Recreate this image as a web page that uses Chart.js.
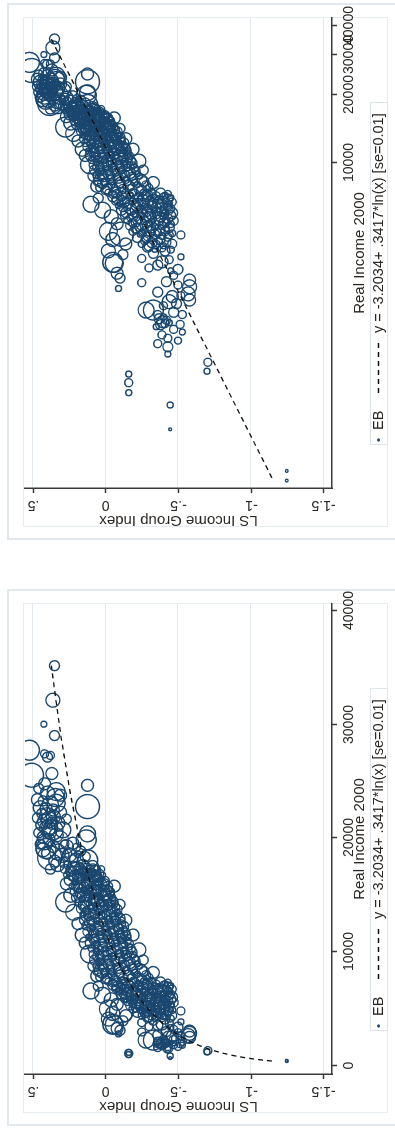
<!DOCTYPE html>
<html>
<head>
<meta charset="utf-8">
<script src="https://cdn.jsdelivr.net/npm/chart.js@4.4.1/dist/chart.umd.min.js"></script>
<style>
  html, body { margin: 0; padding: 0; background: #fff; overflow: hidden; }
  body { width: 395px; height: 1129px; position: relative; }
  .panel { position: absolute; left: 7px; width: 393px; height: 537px; overflow: hidden; }
  /* la grafica se dibuja horizontal y se gira 90 grados a la izquierda */
  .panel canvas { position: absolute; left: 0; top: 0; transform-origin: 0 0; transform: translateY(537px) rotate(-90deg); }
</style>
</head>
<body>
<div class="panel" style="top:3px"><canvas id="graficaLog" width="537" height="393"></canvas></div>
<div class="panel" style="top:589px"><canvas id="graficaLin" width="537" height="393"></canvas></div>
<script>
// Ingreso real 2000 de cada grupo
var ingreso = [
  35200, 32160, 30050, 29050, 27760, 27440, 27300, 27150,
  25560, 25710, 24670, 24120, 23600, 23100, 22800, 21630,
  21000, 20400, 19110, 18300, 14400, 9830, 3650, 4860,
  21340, 20750, 20600, 21340, 20750, 19870, 19280, 19580,
  18550, 18110, 17080, 17520, 18110, 19870, 17230, 16640,
  16350, 15910, 15760, 15180, 15180, 14590, 14590, 23300,
  22600, 22200, 21900, 20100, 19500, 18800, 22300, 21700,
  17650, 17480, 17560, 17420, 17530, 17380,
  17120, 16950, 17060, 16880, 17010, 16920,
  16620, 16440, 16550, 16470, 16580, 16400,
  16130, 15960, 16050, 15910, 16070, 15980,
  15620, 15460, 15540, 15430, 15580, 15470,
  15130, 14960, 15040, 14920, 15070, 14980,
  14620, 14450, 14560, 14410, 14530, 14470,
  14110, 13960, 14050, 13920, 14080, 13970,
  13620, 13440, 13570, 13410, 13530, 13460,
  13100, 12950, 13060, 12910, 13040, 12970,
  12630, 12460, 12550, 12420, 12580, 12480,
  12120, 11950, 12060, 11910, 12040, 11970,
  11610, 11460, 11570, 11420, 11540, 11470,
  11130, 10950, 11060, 10920, 11050, 10960,
  10620, 10460, 10570, 10410, 10540, 10480,
  10110, 9960, 10060, 9920, 10040, 9970,
  9620, 9450, 9560, 9420, 9540, 9470,
  9120, 8960, 9060, 8910, 9040, 8970,
  8610, 8460, 8570, 8420, 8540, 8470,
  8120, 7960, 8060, 7920, 8040, 7970,
  7610, 7460, 7560, 7420, 7540, 7480,
  7280, 7150, 7230, 7120, 7260, 7170, 7210,
  6960, 6850, 6930, 6870, 6980, 6890, 6940,
  6650, 6560, 6640, 6570, 6680, 6590, 6620,
  6360, 6240, 6330, 6270, 6350, 6250, 6310,
  6050, 5950, 6030, 5960, 6070, 5980, 6020,
  5760, 5650, 5730, 5660, 5740, 5680,
  5450, 5360, 5430, 5370, 5440, 5380,
  5150, 5060, 5130, 5070, 5140,
  4860, 4760, 4840, 4770, 4830,
  4550, 4460, 4530, 4470,
  4260, 4170, 4230, 4150,
  8400, 7900, 7000, 6580, 6200, 5800, 5400, 5000,
  4600, 4400, 4100, 3950, 8800, 9300, 8200, 11500,
  10200, 12800, 14200, 15800, 16000, 15000, 13500, 12500,
  11500, 10800,
  4820, 3860, 3800, 3610, 3270, 3110, 2800, 2970, 3670, 3050,
  2850, 2650, 2490, 2580, 2450, 2250, 2250, 2000, 2060, 1960,
  2030, 1940, 2100, 1900, 2150, 1980, 1945, 1690, 1550, 1440,
  1325, 1210, 1175, 1077, 973, 859, 671, 440, 399, 4000,
  3750, 3450, 3350, 4100, 3550,
  17310, 17190, 17270, 17210, 17330, 17170, 17290,
  16800, 16690, 16770, 16710, 16820, 16680, 16760,
  16310, 16180, 16280, 16200, 16330, 16170, 16270,
  15800, 15700, 15780, 15690, 15820, 15710, 15760,
  15310, 15190, 15270, 15210, 15320, 15180, 15290,
  14800, 14690, 14770, 14710, 14820, 14700, 14760,
  14300, 14190, 14280, 14200, 14320, 14180, 14270,
  13810, 13700, 13770, 13690, 13820, 13710, 13760,
  13300, 13190, 13280, 13210, 13310, 13180, 13270,
  12800, 12700, 12770, 12690, 12810, 12710, 12760,
  12310, 12190, 12280, 12200, 12320, 12180, 12270,
  11800, 11700, 11770, 11690, 11810, 11710, 11760,
  11310, 11190, 11270, 11210, 11320, 11180, 11290,
  10800, 10700, 10770, 10690, 10810, 10710, 10760,
  10310, 10190, 10280, 10200, 10320, 10180, 10270,
  9800, 9700, 9770, 9690, 9810, 9710, 9760,
  9300, 9190, 9280, 9210, 9310, 9180, 9270,
  8800, 8700, 8770, 8690, 8810, 8710, 8760,
  8300, 8190, 8280, 8210, 8310, 8180, 8270,
  7800, 7700, 7770, 7690, 7810, 7710, 7760,
  7400, 7320, 7380, 7300, 7410, 7330, 7370, 7310,
  7100, 7010, 7080, 7020, 7110, 7000, 7070, 7030,
  6800, 6710, 6780, 6720, 6810, 6700, 6770, 6730,
  6500, 6410, 6480, 6420, 6510, 6400, 6470,
  6200, 6110, 6180, 6120, 6210, 6100, 6170,
  5900, 5810, 5880, 5820, 5910, 5800, 5870,
  5600, 5510, 5580, 5520, 5610, 5500, 5570,
  5300, 5210, 5280, 5220, 5310, 5200,
  5000, 4910, 4980, 4920, 5010, 4900,
  4700, 4610, 4680, 4620, 4710,
  4400, 4310, 4380, 4320, 4410,
  24800, 24400, 24000, 23800, 23400, 23000, 22700, 22500,
  22000, 21800, 21500, 21200, 20900, 20500, 20300, 19900,
  19700, 19300, 19000, 18700, 18500, 18000, 17700, 17300,
  19200, 18900, 18700, 18400, 18200, 17900, 19500, 18600,
  3400, 3200, 3000, 2900, 2700, 2600, 2400, 2350,
  2200, 2150, 1850, 1800, 1750, 1650, 1600
];

// Indice LS del grupo de ingreso
var indiceLS = [
  0.352, 0.363, 0.425, 0.352, 0.524, 0.42, 0.38, 0.40,
  0.51, 0.37, 0.124, 0.34, 0.345, 0.34, 0.124, 0.39,
  0.385, 0.124, 0.41, 0.385, 0.275, 0.11, -0.05, -0.11,
  0.372, 0.363, 0.386, 0.329, 0.294, 0.317, 0.271, 0.225,
  0.248, 0.202, 0.202, 0.156, 0.122, 0.133, 0.088, 0.179,
  0.064, 0.030, 0.133, 0.099, -0.005, -0.028, 0.064, 0.43,
  0.41, 0.44, 0.36, 0.43, 0.45, 0.33, 0.31, 0.27,
  0.26, 0.21, 0.17, 0.13, 0.09, 0.06,
  0.24, 0.20, 0.16, 0.11, 0.08, 0.04,
  0.23, 0.18, 0.14, 0.10, 0.06, 0.03,
  0.21, 0.17, 0.13, 0.09, 0.05, 0.01,
  0.19, 0.15, 0.11, 0.07, 0.02, -0.02,
  0.18, 0.13, 0.09, 0.05, 0.00, -0.04,
  0.16, 0.12, 0.08, 0.03, -0.01, -0.05,
  0.15, 0.10, 0.06, 0.02, -0.03, -0.07,
  0.13, 0.09, 0.05, 0.00, -0.04, -0.08,
  0.12, 0.07, 0.03, -0.02, -0.06, -0.10,
  0.11, 0.06, 0.02, -0.03, -0.07, -0.11,
  0.10, 0.05, 0.00, -0.04, -0.09, -0.13,
  0.09, 0.04, -0.01, -0.05, -0.10, -0.14,
  0.08, 0.03, -0.02, -0.06, -0.11, -0.15,
  0.07, 0.02, -0.03, -0.07, -0.12, -0.16,
  0.06, 0.01, -0.04, -0.09, -0.13, -0.18,
  0.05, 0.00, -0.05, -0.10, -0.15, -0.20,
  0.04, -0.02, -0.07, -0.12, -0.17, -0.22,
  0.03, -0.03, -0.09, -0.14, -0.19, -0.25,
  0.02, -0.04, -0.10, -0.16, -0.22, -0.28,
  0.00, -0.06, -0.12, -0.19, -0.25, -0.32,
  -0.05, -0.11, -0.17, -0.23, -0.29, -0.35, -0.41,
  -0.08, -0.14, -0.20, -0.26, -0.31, -0.37, -0.43,
  -0.10, -0.16, -0.22, -0.28, -0.33, -0.39, -0.44,
  -0.12, -0.18, -0.24, -0.30, -0.35, -0.40, -0.45,
  -0.14, -0.20, -0.26, -0.31, -0.36, -0.41, -0.46,
  -0.17, -0.23, -0.28, -0.33, -0.38, -0.43,
  -0.19, -0.25, -0.30, -0.35, -0.40, -0.45,
  -0.21, -0.27, -0.32, -0.37, -0.42,
  -0.24, -0.29, -0.34, -0.39, -0.44,
  -0.27, -0.32, -0.37, -0.42,
  -0.29, -0.34, -0.39, -0.45,
  0.03, 0.06, 0.05, 0.10, 0.02, -0.04, -0.08, -0.02,
  -0.05, -0.14, -0.02, -0.12, 0.08, -0.26, -0.33, -0.19,
  -0.23, -0.14, -0.10, -0.06, 0.27, 0.24, 0.22, 0.19,
  0.16, 0.14,
  -0.52, -0.52, -0.25, -0.06, -0.08, -0.10, -0.09, -0.25, -0.39, -0.58,
  -0.58, -0.57, -0.58, -0.46, -0.44, -0.33, -0.28, -0.395, -0.37, -0.41,
  -0.42, -0.38, -0.40, -0.35, -0.36, -0.44, -0.515, -0.43, -0.43, -0.43,
  -0.706, -0.70, -0.16, -0.16, -0.16, -0.446, -0.446, -1.25, -1.25, -0.33,
  -0.44, -0.30, -0.45, -0.41, -0.36,
  0.28, 0.235, 0.19, 0.15, 0.11, 0.07, 0.03,
  0.265, 0.22, 0.18, 0.14, 0.10, 0.06, 0.02,
  0.25, 0.205, 0.165, 0.125, 0.085, 0.045, 0.005,
  0.23, 0.19, 0.15, 0.11, 0.07, 0.03, -0.015,
  0.215, 0.175, 0.135, 0.095, 0.05, 0.01, -0.035,
  0.20, 0.16, 0.12, 0.075, 0.035, -0.01, -0.05,
  0.185, 0.145, 0.10, 0.06, 0.02, -0.025, -0.065,
  0.17, 0.13, 0.09, 0.045, 0.005, -0.04, -0.08,
  0.155, 0.115, 0.075, 0.03, -0.01, -0.055, -0.095,
  0.145, 0.10, 0.06, 0.015, -0.025, -0.07, -0.11,
  0.135, 0.09, 0.045, 0.00, -0.04, -0.085, -0.125,
  0.125, 0.08, 0.035, -0.01, -0.055, -0.10, -0.14,
  0.115, 0.07, 0.025, -0.02, -0.065, -0.11, -0.155,
  0.105, 0.06, 0.015, -0.03, -0.075, -0.12, -0.165,
  0.095, 0.05, 0.005, -0.04, -0.085, -0.13, -0.175,
  0.085, 0.04, -0.01, -0.055, -0.10, -0.145, -0.19,
  0.075, 0.03, -0.02, -0.065, -0.115, -0.16, -0.21,
  0.065, 0.015, -0.035, -0.085, -0.135, -0.18, -0.235,
  0.055, 0.005, -0.045, -0.10, -0.15, -0.20, -0.265,
  0.04, -0.01, -0.065, -0.12, -0.175, -0.23, -0.30,
  -0.02, -0.08, -0.14, -0.20, -0.26, -0.32, -0.38, -0.43,
  -0.05, -0.11, -0.17, -0.23, -0.285, -0.34, -0.40, -0.45,
  -0.07, -0.13, -0.19, -0.25, -0.305, -0.36, -0.415, -0.46,
  -0.09, -0.15, -0.21, -0.27, -0.32, -0.375, -0.43,
  -0.11, -0.17, -0.23, -0.285, -0.335, -0.385, -0.44,
  -0.13, -0.19, -0.25, -0.30, -0.35, -0.40, -0.45,
  -0.15, -0.21, -0.27, -0.32, -0.37, -0.42, -0.47,
  -0.17, -0.23, -0.29, -0.34, -0.39, -0.44,
  -0.19, -0.25, -0.31, -0.36, -0.41, -0.46,
  -0.22, -0.28, -0.33, -0.38, -0.43,
  -0.25, -0.30, -0.35, -0.40, -0.46,
  0.42, 0.46, 0.40, 0.31, 0.47, 0.38, 0.45, 0.36,
  0.40, 0.47, 0.42, 0.44, 0.40, 0.46, 0.34, 0.39,
  0.42, 0.36, 0.43, 0.40, 0.30, 0.35, 0.33, 0.38,
  0.20, 0.17, 0.26, 0.14, 0.22, 0.29, 0.28, 0.19,
  -0.50, -0.47, -0.42, -0.50, -0.36, -0.52, -0.49, -0.40,
  -0.47, -0.53, -0.47, -0.53, -0.39, -0.50, -0.36
];

// Peso de cada grupo (aweight)
var peso = [
  25, 49, 9, 25, 100, 16, 16, 25,
  144, 36, 36, 81, 81, 81, 144, 64,
  64, 64, 100, 144, 100, 81, 100, 144,
  36, 100, 49, 49, 64, 81, 49, 36,
  49, 49, 100, 49, 100, 100, 36, 49,
  36, 36, 49, 36, 64, 36, 36, 25,
  36, 25, 49, 36, 25, 64, 36, 25,
  16, 25, 9, 20, 36, 9,
  25, 12, 16, 30, 9, 16,
  16, 25, 12, 16, 20, 9,
  9, 20, 25, 12, 16, 30,
  25, 9, 16, 36, 12, 16,
  20, 25, 9, 16, 30, 12,
  9, 16, 25, 12, 20, 25,
  30, 9, 16, 25, 12, 16,
  16, 20, 9, 16, 25, 12,
  12, 16, 30, 9, 20, 25,
  25, 9, 16, 20, 12, 16,
  16, 30, 9, 16, 25, 9,
  12, 16, 25, 9, 20, 25,
  25, 12, 16, 30, 9, 16,
  16, 25, 9, 20, 25, 12,
  9, 20, 25, 12, 16, 30,
  30, 9, 16, 25, 12, 16,
  16, 25, 12, 16, 30, 9,
  9, 16, 25, 12, 20, 25,
  25, 12, 16, 30, 9, 20,
  20, 25, 9, 16, 30, 12,
  16, 25, 9, 20, 25, 16, 9,
  25, 12, 16, 30, 9, 16, 25,
  9, 16, 25, 12, 20, 25, 9,
  16, 30, 9, 16, 25, 12, 16,
  25, 9, 20, 25, 12, 16, 30,
  12, 16, 25, 9, 20, 25,
  16, 30, 9, 16, 25, 12,
  25, 12, 16, 30, 9,
  9, 20, 25, 12, 16,
  16, 25, 12, 20,
  25, 9, 16, 12,
  49, 36, 25, 64, 64, 49, 36, 81,
  49, 36, 49, 25, 36, 25, 36, 36,
  49, 36, 25, 36, 36, 49, 64, 36,
  49, 36,
  16, 9, 16, 81, 36, 25, 9, 16, 36, 36,
  49, 49, 36, 36, 49, 100, 64, 36, 25, 16,
  16, 25, 9, 9, 16, 9, 16, 16, 25, 9,
  16, 9, 9, 16, 9, 9, 2, 2, 2, 25,
  16, 16, 9, 25, 25,
  20, 12, 25, 9, 16, 30, 12,
  12, 25, 9, 20, 16, 25, 9,
  25, 9, 16, 30, 12, 16, 20,
  9, 20, 25, 12, 16, 9, 25,
  16, 25, 12, 20, 30, 9, 16,
  25, 9, 16, 25, 12, 20, 9,
  12, 20, 25, 9, 16, 30, 12,
  20, 12, 16, 25, 9, 16, 25,
  9, 25, 20, 12, 25, 16, 9,
  25, 16, 9, 20, 16, 25, 12,
  16, 9, 25, 16, 12, 20, 25,
  20, 25, 12, 9, 25, 16, 16,
  9, 16, 25, 20, 12, 25, 9,
  25, 12, 16, 25, 9, 20, 16,
  12, 25, 9, 16, 25, 12, 20,
  16, 20, 25, 9, 16, 25, 12,
  25, 9, 16, 25, 12, 20, 16,
  9, 25, 20, 12, 25, 16, 9,
  20, 16, 9, 25, 16, 12, 25,
  16, 25, 12, 20, 9, 25, 16,
  12, 20, 16, 25, 9, 16, 25, 12,
  25, 9, 16, 20, 25, 12, 16, 9,
  16, 25, 12, 16, 20, 25, 9, 16,
  9, 16, 25, 12, 16, 25, 20,
  25, 12, 16, 25, 9, 20, 16,
  16, 20, 9, 25, 16, 12, 25,
  12, 25, 16, 9, 25, 16, 20,
  20, 16, 25, 12, 16, 25,
  16, 9, 25, 16, 20, 12,
  25, 16, 12, 20, 16,
  12, 25, 16, 9, 20,
  36, 25, 49, 36, 36, 64, 49, 36,
  64, 25, 49, 36, 64, 25, 49, 36,
  64, 36, 49, 36, 49, 36, 49, 25,
  16, 25, 16, 25, 16, 25, 16, 12,
  25, 16, 25, 16, 25, 16, 25, 16,
  25, 16, 16, 9, 16, 12, 16
];

// Ajuste y = a + b*ln(x) que aparece en la leyenda
var ajusteA = -3.2034;
var ajusteB = 0.3417;
var ingresoAjuste = [410, 450, 500, 560, 630, 710, 800, 900, 1000, 1150, 1300, 1500, 1750, 2000,
  2400, 2800, 3300, 4000, 5000, 6000, 7500, 9000, 11000, 13500, 16500, 20000, 24000, 29000, 35200];

var ticksLS = [0.5, 0, -0.5, -1, -1.5];
var etiquetasLS = ['.5', '0', '-.5', '-1', '-1.5'];
var ticksIngresoLin = [0, 10000, 20000, 30000, 40000];
var ticksIngresoLog = [10000, 20000, 30000, 40000];
var textoLeyenda = ['EB', 'y = -3.2034+ .3417*ln(x) [se=0.01]'];
var tituloX = 'Real Income 2000';
var tituloY = 'LS Income Group Index';

var AZUL = '#1a476f';
var TEXTO = '#2a2622';
var EJE = '#3a3a3a';
var FUENTE = '"Liberation Sans", Arial, sans-serif';

// Marco, ejes, etiquetas y leyenda al estilo Stata
var marcoStata = {
  id: 'marcoStata',
  beforeDraw: function(chart) {
    var ctx = chart.ctx;
    ctx.save();
    ctx.fillStyle = '#ffffff';
    ctx.fillRect(0, 0, chart.width, chart.height);
    ctx.strokeStyle = '#e2e9ec';
    ctx.lineWidth = 2;
    ctx.strokeRect(1, 1, chart.width - 2, chart.height - 2);
    ctx.strokeStyle = '#e6edf0';
    ctx.lineWidth = 1;
    ctx.strokeRect(13.5, 16.5, 509, 364);
    ctx.restore();
  },
  afterDraw: function(chart, args, opciones) {
    var ctx = chart.ctx;
    var area = chart.chartArea;
    var sx = chart.scales.x;
    var sy = chart.scales.y;
    ctx.save();
    ctx.strokeStyle = EJE;
    ctx.lineWidth = 1.5;
    ctx.fillStyle = TEXTO;

    // eje de ingreso
    ctx.font = '14px ' + FUENTE;
    ctx.textAlign = 'center';
    ctx.textBaseline = 'alphabetic';
    opciones.marcas.forEach(function(v) {
      var px = Math.round(sx.getPixelForValue(v)) + 0.5;
      ctx.beginPath();
      ctx.moveTo(px, area.bottom);
      ctx.lineTo(px, area.bottom + 5);
      ctx.stroke();
      ctx.fillText(String(v), px, area.bottom + 21);
    });
    ctx.font = '15px ' + FUENTE;
    ctx.fillText(tituloX, (area.left + area.right) / 2, area.bottom + 31.5);

    // eje del indice LS, etiquetas verticales
    ctx.font = '14px ' + FUENTE;
    ticksLS.forEach(function(v, i) {
      var py = Math.round(sy.getPixelForValue(v)) + 0.5;
      ctx.beginPath();
      ctx.moveTo(area.left, py);
      ctx.lineTo(area.left - 5, py);
      ctx.stroke();
      ctx.save();
      ctx.translate(35, py);
      ctx.rotate(-Math.PI / 2);
      ctx.textBaseline = 'middle';
      ctx.fillText(etiquetasLS[i], 0, 0);
      ctx.restore();
    });
    ctx.save();
    ctx.font = '15px ' + FUENTE;
    ctx.translate(20, (area.top + area.bottom) / 2);
    ctx.rotate(-Math.PI / 2);
    ctx.textBaseline = 'middle';
    ctx.fillText(tituloY, 0, 0);
    ctx.restore();

    // leyenda
    var y0 = 371.5;
    ctx.strokeStyle = '#dde5e9';
    ctx.lineWidth = 1;
    ctx.strokeRect(95.5, 363.5, 342, 17);
    ctx.fillStyle = AZUL;
    ctx.beginPath();
    ctx.arc(100, y0, 1.6, 0, Math.PI * 2);
    ctx.fill();
    ctx.fillStyle = TEXTO;
    ctx.font = '14.5px ' + FUENTE;
    ctx.textAlign = 'left';
    ctx.textBaseline = 'middle';
    ctx.fillText(textoLeyenda[0], 110, y0 + 0.5);
    ctx.strokeStyle = '#111';
    ctx.lineWidth = 1.3;
    ctx.setLineDash([5, 4]);
    ctx.beginPath();
    ctx.moveTo(147, y0);
    ctx.lineTo(201, y0);
    ctx.stroke();
    ctx.setLineDash([]);
    ctx.fillText(textoLeyenda[1], 207, y0 + 0.5);
    ctx.restore();
  }
};

function crearGrafica(id, tipoX, minX, maxX, marcas) {
  var puntos = ingreso.map(function(x, i) { return { x: x, y: indiceLS[i] }; });
  var curva = ingresoAjuste.map(function(x) { return { x: x, y: ajusteA + ajusteB * Math.log(x) }; });

  return new Chart(document.getElementById(id), {
    type: 'scatter',
    data: {
      datasets: [{
        label: textoLeyenda[0],
        data: puntos,
        borderColor: AZUL,
        backgroundColor: 'rgba(0,0,0,0)',
        borderWidth: 1.4,
        pointRadius: function(c) { return Math.sqrt(peso[c.dataIndex]); },
        order: 1
      }, {
        type: 'line',
        label: textoLeyenda[1],
        data: curva,
        borderColor: '#111',
        borderWidth: 1.3,
        borderDash: [5, 4],
        pointRadius: 0,
        fill: false,
        tension: 0,
        order: 0
      }]
    },
    options: {
      responsive: false,
      animation: false,
      events: [],
      layout: { padding: { left: 52, right: 15, top: 18, bottom: 68 } },
      plugins: {
        legend: { display: false },
        tooltip: { enabled: false },
        marcoStata: { marcas: marcas }
      },
      scales: {
        x: {
          type: tipoX,
          min: minX,
          max: maxX,
          bounds: 'data',
          afterBuildTicks: function(s) { s.ticks = marcas.map(function(v) { return { value: v }; }); },
          ticks: { display: false },
          grid: { display: false, drawTicks: false },
          border: { display: true, color: EJE, width: 1.5 }
        },
        y: {
          type: 'linear',
          min: -1.562,
          max: 0.555,
          bounds: 'data',
          afterBuildTicks: function(s) { s.ticks = ticksLS.map(function(v) { return { value: v }; }); },
          ticks: { display: false },
          grid: { color: '#e2eaee', lineWidth: 1, drawTicks: false },
          border: { display: true, color: EJE, width: 1.5 }
        }
      }
    },
    plugins: [marcoStata]
  });
}

crearGrafica('graficaLog', 'logarithmic', 370, 43540, ticksIngresoLog);
crearGrafica('graficaLin', 'linear', -730, 40625, ticksIngresoLin);
</script>
</body>
</html>
